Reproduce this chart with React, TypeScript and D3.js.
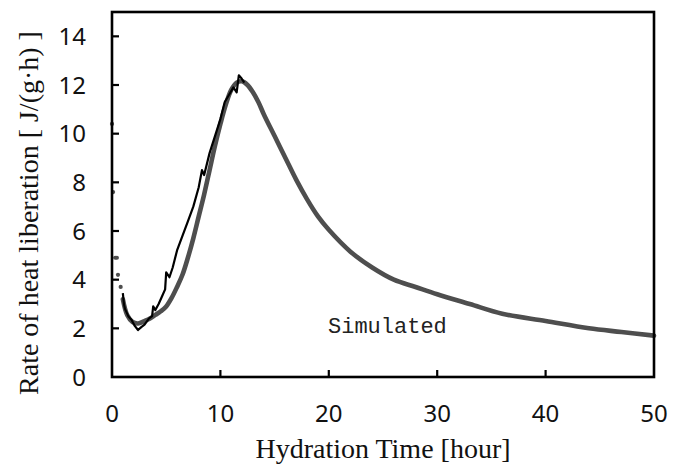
import React from "react";
import * as d3 from "d3";

const xTicks = [0, 10, 20, 30, 40, 50];
const yTicks = [0, 2, 4, 6, 8, 10, 12, 14];

// Experimental (black line)
const expX = [1.0, 1.1, 1.2, 1.5, 1.8, 2.1, 2.4, 2.7, 3.0, 3.4, 3.7, 3.8, 4.0, 4.3, 4.6, 4.9, 5.0, 5.3, 5.6, 6.0, 6.5, 7.0, 7.5, 8.0, 8.3, 8.5, 9.0, 9.5, 10.0, 10.4, 10.8, 11.2, 11.5, 11.7, 11.9, 12.2];
const expY = [3.45, 3.0, 2.8, 2.5, 2.35, 2.1, 1.93, 2.05, 2.15, 2.4, 2.5, 2.9, 2.75, 3.0, 3.3, 3.6, 4.3, 4.1, 4.5, 5.2, 5.8, 6.4, 7.0, 7.8, 8.5, 8.3, 9.2, 9.9, 10.6, 11.3, 11.6, 11.9, 11.7, 12.4, 12.3, 12.1];

// Simulated (grey markers)
const simX = [0, 0.1, 0.3, 0.45, 0.55, 0.8, 1.0, 1.4, 1.9, 2.4, 3.0, 3.5, 4.0, 4.5, 5.0, 5.5, 6.0, 6.5, 7.0, 7.5, 8.0, 8.5, 9.0, 9.5, 10.0, 10.5, 11.0, 11.5, 12.0, 12.5, 13.0, 13.5, 14.0, 15.0, 16.0, 17.0, 18.0, 19.0, 20.0, 22.0, 24.0, 26.0, 28.0, 30.0, 33.0, 36.0, 40.0, 44.0, 47.0, 50.0];
const simY = [10.4, 7.6, 4.9, 4.9, 4.2, 3.7, 3.2, 2.55, 2.26, 2.2, 2.3, 2.4, 2.55, 2.7, 2.9, 3.25, 3.7, 4.2, 4.9, 5.7, 6.6, 7.5, 8.5, 9.5, 10.4, 11.2, 11.8, 12.1, 12.15, 12.0, 11.7, 11.3, 10.8, 9.9, 9.0, 8.1, 7.3, 6.6, 6.05, 5.15, 4.5, 4.0, 3.7, 3.4, 3.0, 2.6, 2.3, 2.0, 1.85, 1.7];

const W = 680;
const H = 467;
const left = 112;
const right = 654;
const top = 12;
const bottom = 377;

export default function App() {
  const x = d3.scaleLinear().domain([0, 50]).range([left, right]);
  const y = d3.scaleLinear().domain([0, 15]).range([bottom, top]);

  const sim = simX.map((v, i) => [v, simY[i]] as [number, number]);
  const exp = expX.map((v, i) => [v, expY[i]] as [number, number]);
  const simLine = d3
    .line<[number, number]>()
    .x((d) => x(d[0]))
    .y((d) => y(d[1]))
    .curve(d3.curveCatmullRom);
  const expLine = d3
    .line<[number, number]>()
    .x((d) => x(d[0]))
    .y((d) => y(d[1]))
    .curve(d3.curveLinear);

  const simCurve = sim.filter((d) => d[0] >= 1.0);
  const simDots = sim.filter((d) => d[0] < 1.0);

  return (
    <svg
      width={W}
      height={H}
      style={{ position: "absolute", left: 0, top: 0, display: "block", background: "#fff" }}
    >
      <rect x={0} y={0} width={W} height={H} fill="#fff" />
      {/* simulated */}
      <path d={simLine(simCurve) || ""} fill="none" stroke="#4e4e4e" strokeWidth={4.6} strokeLinecap="round" />
      {simDots.map((d, i) => (
        <circle key={i} cx={x(d[0])} cy={y(d[1])} r={2.1} fill="#4e4e4e" />
      ))}
      {/* experimental */}
      <path d={expLine(exp) || ""} fill="none" stroke="#000" strokeWidth={2.2} strokeLinejoin="round" />

      {/* frame */}
      <rect x={left} y={top} width={right - left} height={bottom - top} fill="none" stroke="#000" strokeWidth={2.6} />
      {xTicks.slice(1, -1).map((t) => (
        <line key={"xt" + t} x1={x(t)} x2={x(t)} y1={bottom} y2={bottom - 7} stroke="#000" strokeWidth={2.2} />
      ))}
      {yTicks.slice(1).map((t) => (
        <line key={"yt" + t} x1={left} x2={left + 7} y1={y(t)} y2={y(t)} stroke="#000" strokeWidth={2.2} />
      ))}
      {xTicks.map((t) => (
        <text key={"xl" + t} x={x(t)} y={422} textAnchor="middle" fontFamily="'Noto Sans', sans-serif" fontSize={24} fill="#111">
          {t}
        </text>
      ))}
      {yTicks.map((t) => (
        <text key={"yl" + t} x={86} y={y(t)} dy="0.36em" textAnchor="end" fontFamily="'Noto Sans', sans-serif" fontSize={24} fill="#111">
          {t}
        </text>
      ))}
      <text x={383} y={458} textAnchor="middle" fontFamily="'Liberation Serif', 'Times New Roman', serif" fontSize={28} fill="#111">
        Hydration Time [hour]
      </text>
      <text
        transform={`translate(38, ${(28 + 398) / 2}) rotate(-90)`}
        textAnchor="middle"
        fontFamily="'Liberation Serif', 'Times New Roman', serif"
        fontSize={28}
        fill="#111"
      >
        Rate of heat liberation [ J/(g·h) ]
      </text>
      <text x={328} y={333} fontFamily="'Liberation Mono', monospace" fontSize={22} fill="#222">
        Simulated
      </text>
    </svg>
  );
}
